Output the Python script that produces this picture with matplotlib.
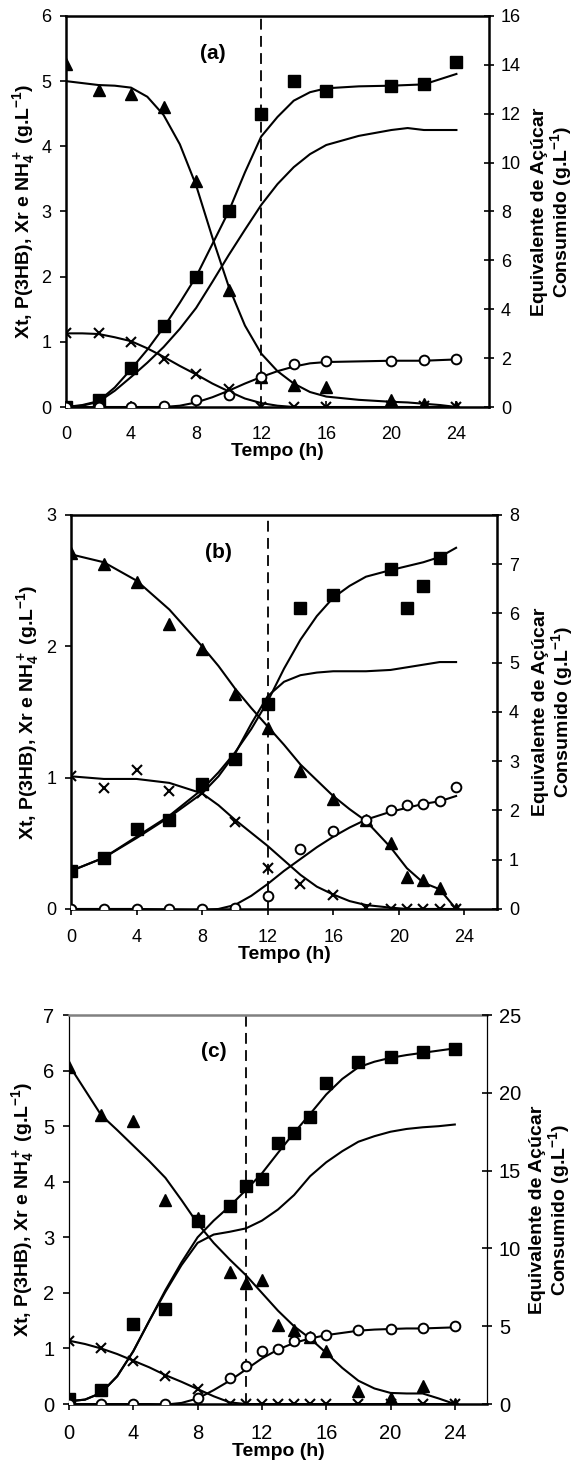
import matplotlib
matplotlib.use("Agg")
from matplotlib import pyplot as plt

plt.rcParams['font.family'] = ['Liberation Sans', 'DejaVu Sans']
plt.rcParams['mathtext.fontset'] = 'custom'
plt.rcParams['mathtext.rm'] = 'Liberation Sans'
plt.rcParams['mathtext.bf'] = 'Liberation Sans:bold'
plt.rcParams['mathtext.default'] = 'bf'

# ---------------- panel (a) ----------------
t_a = [0, 2, 4, 6, 8, 10, 12, 14, 16, 20, 22, 24]
sq_a = [0.0, 0.11, 0.6, 1.24, 2.0, 3.0, 4.5, 5.0, 4.85, 4.93, 4.95, 5.3]
tri_a = [5.27, 4.86, 4.81, 4.61, 3.46, 1.79, 0.46, 0.33, 0.31, 0.1, 0.05, 0.0]
cross_a = [1.13, 1.13, 0.99, 0.74, 0.5, 0.28, 0.0, 0.0, 0.0, 0.02, 0.02, 0.0]
circ_a = [0.0, 0.0, 0.0, 0.01, 0.11, 0.19, 0.46, 0.66, 0.71, 0.71, 0.72, 0.74]

tl_a = [0, 1, 2, 3, 4, 5, 6, 7, 8, 9, 10, 11, 12, 13, 14, 15, 16, 18, 20, 21, 22, 23, 24]
sq_fit_a = [0.0, 0.03, 0.09, 0.3, 0.58, 0.88, 1.22, 1.6, 2.0, 2.5, 3.0, 3.6, 4.15, 4.45,
            4.7, 4.83, 4.89, 4.92, 4.93, 4.94, 4.95, 5.03, 5.11]
free_fit_a = [0.0, 0.02, 0.08, 0.25, 0.46, 0.68, 0.92, 1.2, 1.52, 1.92, 2.33, 2.72, 3.1,
              3.42, 3.68, 3.88, 4.02, 4.16, 4.25, 4.28, 4.25, 4.25, 4.25]
tri_fit_a = [5.0, 4.97, 4.94, 4.93, 4.9, 4.76, 4.48, 4.03, 3.4, 2.6, 1.85, 1.25, 0.82, 0.55,
             0.36, 0.23, 0.16, 0.11, 0.08, 0.07, 0.05, 0.03, 0.0]
cross_fit_a = [1.13, 1.13, 1.12, 1.07, 1.01, 0.9, 0.77, 0.63, 0.5, 0.36, 0.24, 0.13, 0.06,
               0.02, 0.0, 0.0, 0.0, 0.0, 0.0, 0.0, 0.0, 0.0, 0.0]
circ_fit_a = [0.0, 0.0, 0.0, 0.0, 0.0, 0.0, 0.0, 0.02, 0.07, 0.15, 0.25, 0.36, 0.46, 0.55,
              0.62, 0.67, 0.69, 0.7, 0.71, 0.71, 0.71, 0.72, 0.73]

# ---------------- panel (b) ----------------
t_b = [0, 2, 4, 6, 8, 10, 12, 14, 16, 18, 19.5, 20.5, 21.5, 22.5, 23.5]
ts_b = [0, 2, 4, 6, 8, 10, 12, 14, 16, 19.5, 20.5, 21.5, 22.5]
sq_b = [0.29, 0.39, 0.61, 0.68, 0.95, 1.14, 1.56, 2.29, 2.39, 2.59, 2.29, 2.46, 2.67]
tri_b = [2.71, 2.63, 2.49, 2.17, 1.98, 1.64, 1.38, 1.05, 0.84, 0.68, 0.5, 0.24, 0.22, 0.16, 0.0]
cross_b = [1.01, 0.92, 1.06, 0.9, 0.88, 0.66, 0.31, 0.19, 0.11, 0.01, 0.0, 0.0, 0.0, 0.0, 0.0]
circ_b = [0.0, 0.0, 0.0, 0.0, 0.0, 0.01, 0.1, 0.46, 0.59, 0.68, 0.75, 0.79, 0.8, 0.82, 0.93]

tl_b = [0, 2, 4, 6, 8, 9, 10, 11, 12, 13, 14, 15, 16, 17, 18, 19.5, 20.5, 21.5, 22.5, 23.5]
sq_fit_b = [0.29, 0.39, 0.55, 0.71, 0.91, 1.04, 1.19, 1.37, 1.58, 1.83, 2.05, 2.23, 2.37,
            2.46, 2.53, 2.58, 2.61, 2.64, 2.68, 2.75]
free_fit_b = [0.29, 0.39, 0.54, 0.7, 0.88, 1.01, 1.18, 1.41, 1.62, 1.73, 1.78, 1.8, 1.81,
              1.81, 1.81, 1.82, 1.84, 1.86, 1.88, 1.88]
tri_fit_b = [2.7, 2.64, 2.5, 2.28, 2.0, 1.85, 1.68, 1.53, 1.39, 1.25, 1.1, 0.98, 0.86, 0.76,
             0.67, 0.47, 0.31, 0.2, 0.15, 0.0]
cross_fit_b = [1.01, 0.99, 0.99, 0.96, 0.88, 0.79, 0.68, 0.58, 0.48, 0.37, 0.26, 0.17, 0.11,
               0.06, 0.03, 0.01, 0.0, 0.0, 0.0, 0.0]
circ_fit_b = [0.0, 0.0, 0.0, -0.005, -0.01, 0.0, 0.03, 0.1, 0.19, 0.29, 0.38, 0.47, 0.55,
              0.62, 0.68, 0.74, 0.77, 0.8, 0.82, 0.86]

# ---------------- panel (c) ----------------
t_c = [0, 2, 4, 6, 8, 10, 11, 12, 13, 14, 15, 16, 18, 20, 22, 24]
sq_c = [0.09, 0.25, 1.44, 1.71, 3.3, 3.56, 3.93, 4.05, 4.7, 4.87, 5.16, 5.77, 6.15, 6.24, 6.33, 6.39]
tri_c = [6.06, 5.21, 5.1, 3.67, 3.34, 2.38, 2.17, 2.24, 1.42, 1.33, 1.21, 0.96, 0.23, 0.11, 0.32, 0.0]
cross_c = [1.14, 1.0, 0.77, 0.5, 0.27, 0.0, 0.0, 0.0, 0.0, 0.0, 0.0, 0.0, 0.0, 0.0, 0.0, 0.0]
circ_c = [0.0, 0.0, 0.0, 0.0, 0.1, 0.47, 0.69, 0.95, 0.99, 1.14, 1.21, 1.24, 1.33, 1.35, 1.36, 1.41]

tl_c = [0, 1, 2, 3, 4, 5, 6, 7, 8, 9, 10, 11, 12, 13, 14, 15, 16, 17, 18, 19, 20, 21, 22, 23, 24]
sq_fit_c = [0.05, 0.08, 0.2, 0.5, 0.95, 1.5, 2.05, 2.55, 3.0, 3.3, 3.56, 3.85, 4.15, 4.52,
            4.88, 5.22, 5.57, 5.85, 6.06, 6.16, 6.23, 6.28, 6.32, 6.36, 6.4]
free_fit_c = [0.05, 0.08, 0.2, 0.5, 0.95, 1.5, 2.02, 2.5, 2.9, 3.05, 3.1, 3.16, 3.3, 3.5,
              3.76, 4.1, 4.35, 4.55, 4.72, 4.82, 4.9, 4.95, 4.98, 5.0, 5.03]
tri_fit_c = [6.1, 5.65, 5.2, 4.93, 4.65, 4.37, 4.07, 3.67, 3.25, 2.9, 2.6, 2.32, 2.0, 1.68,
             1.4, 1.18, 0.92, 0.65, 0.42, 0.28, 0.2, 0.19, 0.19, 0.1, 0.0]
cross_fit_c = [1.14, 1.08, 1.0, 0.9, 0.78, 0.66, 0.52, 0.4, 0.27, 0.14, 0.03, 0.0, 0.0, 0.0,
               0.0, 0.0, 0.0, 0.0, 0.0, 0.0, 0.0, 0.0, 0.0, 0.0, 0.0]
circ_fit_c = [0.0, 0.0, 0.0, 0.0, 0.0, 0.0, -0.01, 0.02, 0.1, 0.25, 0.42, 0.62, 0.82, 0.98,
              1.1, 1.18, 1.24, 1.28, 1.32, 1.34, 1.35, 1.36, 1.36, 1.37, 1.38]

left_label = r'Xt, P(3HB), Xr e NH$_4^+$ (g.L$^{-1}$)'
right_label = 'Equivalente de Açúcar\nConsumido (g.L$^{-1}$)'


def draw_panel(rect, name, t_sq, sq, t_pts, tri, cross, circ, tl, fits, ymax, rmax, rstep,
               t_dash, xdir, left_lx, right_lx, tsize=13, thin=False):
    ax = fig.add_axes(rect)
    for f in fits:
        ax.plot(tl, f, color='black', lw=1.5, zorder=3)
    ax.axvline(t_dash, color='black', lw=1.3, ls=(0, (6, 3.5)), zorder=2)
    ax.plot(t_sq, sq, 's', color='black', ms=8.5, zorder=5)
    ax.plot(t_pts, tri, '^', color='black', ms=9, zorder=5)
    ax.plot(t_pts, circ, 'o', mfc='white', mec='black', mew=1.4, ms=7, zorder=6)
    ax.plot(t_pts, cross, 'x', color='black', mew=1.5, ms=7.5, zorder=6)

    ax.set_xlim(0, 26)
    ax.set_ylim(0, ymax)
    ax.set_xticks(range(0, 25, 4))
    ax.set_yticks(range(0, ymax + 1))
    ax.text(9, ymax * 0.905, name, fontsize=15, fontweight='bold', ha='center', va='center')

    ax.tick_params(axis='y', direction='out', length=4.5, width=1.2, labelsize=tsize, pad=6)
    ax.tick_params(axis='x', direction=xdir, length=4.5, width=1.2, labelsize=tsize,
                   pad=14 if xdir == 'in' else 10)
    ax.set_xlabel('Tempo (h)', fontsize=14, fontweight='bold', labelpad=0)
    ax.set_ylabel(left_label, fontsize=14, fontweight='bold')
    ax.yaxis.set_label_coords(left_lx, 0.5)

    ax2 = ax.twinx()
    ax2.set_ylim(0, rmax)
    ax2.set_yticks(range(0, rmax + 1, rstep))
    ax2.tick_params(axis='y', direction='inout', length=7, width=1.2, labelsize=tsize, pad=5)
    ax2.set_ylabel(right_label, fontsize=14, fontweight='bold', linespacing=1.0)
    ax2.yaxis.set_label_coords(right_lx, 0.5)

    for s in ['left', 'right', 'top', 'bottom']:
        ax2.spines[s].set_visible(s == 'right')
    ax.spines['right'].set_visible(False)
    if thin:
        ax.spines['left'].set_linewidth(0.9)
        ax.spines['top'].set_linewidth(1.8)
        ax.spines['top'].set_color('#808080')
        ax.spines['bottom'].set_linewidth(1.8)
        ax2.spines['right'].set_linewidth(0.9)
    else:
        for s in ['left', 'top', 'bottom']:
            ax.spines[s].set_linewidth(1.8)
        ax2.spines['right'].set_linewidth(1.8)
    return ax


fig = plt.figure(figsize=(5.86, 14.63), dpi=100)

draw_panel([0.1126, 0.7218, 0.7218, 0.2673], '(a)', t_a, sq_a, t_a, tri_a, cross_a, circ_a,
           tl_a, [sq_fit_a, free_fit_a, tri_fit_a, cross_fit_a, circ_fit_a],
           6, 16, 2, 12, 'in', -0.068, 1.10)
draw_panel([0.1212, 0.3787, 0.727, 0.2693], '(b)', ts_b, sq_b, t_b, tri_b, cross_b, circ_b,
           tl_b, [sq_fit_b, free_fit_b, tri_fit_b, cross_fit_b, circ_fit_b],
           3, 8, 1, 12, 'out', -0.07, 1.082)
draw_panel([0.1177, 0.0403, 0.7133, 0.2659], '(c)', t_c, sq_c, t_c, tri_c, cross_c, circ_c,
           tl_c, [sq_fit_c, free_fit_c, tri_fit_c, cross_fit_c, circ_fit_c],
           7, 25, 5, 11, 'out', -0.078, 1.10, tsize=14.5, thin=True)

plt.savefig('out.png', dpi=100)
